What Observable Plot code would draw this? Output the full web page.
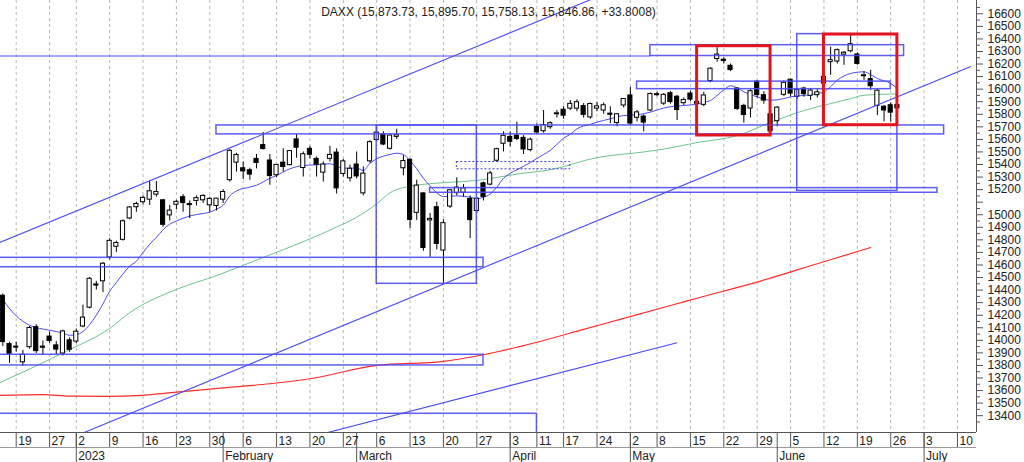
<!DOCTYPE html>
<html><head><meta charset="utf-8">
<script src="https://cdn.jsdelivr.net/npm/d3@7"></script>
<script src="https://cdn.jsdelivr.net/npm/@observablehq/plot@0.6"></script>
<style>html,body{margin:0;padding:0;background:#fff;}</style>
</head><body><div id="chart"></div>
<script>
// ---------- DATA ----------
const title = "DAXX (15,873.73, 15,895.70, 15,758.13, 15,846.86, +33.8008)";
const holidays = ["2022-12-26","2023-04-07","2023-04-10","2023-05-01"];
const monthLabels = ["2023","February","March","April","May","June","July"];
const yTickLabels = [16600,16500,16400,16300,16200,16100,16000,15900,15800,15700,15600,15500,15400,15300,15200,15000,14900,14800,14700,14600,14500,14400,14300,14200,14100,14000,13900,13800,13700,13600,13500,13400];

const days = ["2022-12-15","2022-12-16","2022-12-19","2022-12-20","2022-12-21","2022-12-22","2022-12-23","2022-12-27","2022-12-28","2022-12-29","2022-12-30",
"2023-01-02","2023-01-03","2023-01-04","2023-01-05","2023-01-06","2023-01-09","2023-01-10","2023-01-11","2023-01-12","2023-01-13","2023-01-16","2023-01-17","2023-01-18","2023-01-19","2023-01-20","2023-01-23","2023-01-24","2023-01-25","2023-01-26","2023-01-27","2023-01-30","2023-01-31",
"2023-02-01","2023-02-02","2023-02-03","2023-02-06","2023-02-07","2023-02-08","2023-02-09","2023-02-10","2023-02-13","2023-02-14","2023-02-15","2023-02-16","2023-02-17","2023-02-20","2023-02-21","2023-02-22","2023-02-23","2023-02-24","2023-02-27","2023-02-28",
"2023-03-01","2023-03-02","2023-03-03","2023-03-06","2023-03-07","2023-03-08","2023-03-09","2023-03-10","2023-03-13","2023-03-14","2023-03-15","2023-03-16","2023-03-17","2023-03-20","2023-03-21","2023-03-22","2023-03-23","2023-03-24","2023-03-27","2023-03-28","2023-03-29","2023-03-30","2023-03-31",
"2023-04-03","2023-04-04","2023-04-05","2023-04-06","2023-04-11","2023-04-12","2023-04-13","2023-04-14","2023-04-17","2023-04-18","2023-04-19","2023-04-20","2023-04-21","2023-04-24","2023-04-25","2023-04-26","2023-04-27","2023-04-28",
"2023-05-02","2023-05-03","2023-05-04","2023-05-05","2023-05-08","2023-05-09","2023-05-10","2023-05-11","2023-05-12","2023-05-15","2023-05-16","2023-05-17","2023-05-18","2023-05-19","2023-05-22","2023-05-23","2023-05-24","2023-05-25","2023-05-26","2023-05-29","2023-05-30","2023-05-31",
"2023-06-01","2023-06-02","2023-06-05","2023-06-06","2023-06-07","2023-06-08","2023-06-09","2023-06-12","2023-06-13","2023-06-14","2023-06-15","2023-06-16","2023-06-19","2023-06-20","2023-06-21","2023-06-22","2023-06-23","2023-06-26","2023-06-27"];
const open = [14355,13970,13950,13825,13945,14105,13950,14030,13960,13895,14000,
13990,14110,14260,14445,14470,14660,14745,14800,14970,15060,15100,15120,15160,15115,14995,15080,15140,15085,15110,15115,15075,15070,
15120,15275,15415,15370,15355,15445,15555,15432,15315,15415,15395,15600,15372,15525,15445,15335,15445,15495,15325,15290,
15400,15170,15425,15595,15640,15525,15620,15370,15437,15015,15170,14955,15060,14715,15065,15172,15175,15125,15030,15250,15240,15430,15565,
15620,15630,15612,15515,15700,15665,15697,15800,15836,15845,15845,15865,15775,15845,15830,15805,15730,15870,
15950,15772,15782,15830,15960,15885,15968,15940,15888,15965,15883,15875,16065,16240,16235,16186,16005,15867,15846,16060,15952,15800,
15745,15955,16075,15940,16005,15947,15952,16045,16215,16220,16275,16302,16276,16110,16080,15867,15860,15872,15873.73];
const high = [14370,13985,13985,13920,14110,14125,13995,14065,13990,14080,14020,
14090,14280,14500,14470,14620,14810,14790,14960,15065,15100,15150,15270,15265,15120,15075,15115,15160,15110,15150,15160,15140,15130,
15200,15520,15490,15420,15370,15480,15655,15480,15400,15525,15510,15640,15500,15545,15460,15420,15545,15525,15440,15395,
15500,15380,15590,15700,15660,15640,15680,15470,15445,15275,15175,15010,15100,14960,15200,15295,15240,15150,15140,15260,15345,15530,15660,
15660,15737,15630,15610,15725,15830,15740,15830,15860,15910,15915,15885,15890,15895,15890,15860,15805,15925,
16015,15830,15795,15970,15975,15965,15980,15950,15930,15985,15910,15975,16170,16330,16250,16200,16010,15880,15995,16070,15980,15870,
15860,16065,16080,16000,16015,16005,16000,16100,16335,16320,16300,16430,16290,16140,16150,15995,15870,15890,15895.70];
const low = [13950,13815,13905,13792,13930,13895,13880,13975,13880,13875,13905,
13975,14100,14250,14400,14380,14640,14700,14790,14960,15020,15080,15075,15140,14900,14950,15040,15020,14970,15070,15090,15020,15030,
15090,15260,15340,15280,15275,15365,15515,15235,15295,15340,15390,15450,15300,15445,15300,15260,15420,15165,15300,15260,
15285,15150,15410,15580,15550,15515,15600,15310,14890,14955,14710,14660,14720,14455,15050,15150,15140,14810,15010,15110,15230,15420,15500,
15540,15590,15480,15500,15640,15650,15680,15770,15760,15830,15820,15770,15760,15820,15800,15725,15700,15850,
15710,15740,15660,15820,15940,15870,15880,15750,15870,15900,15860,15860,16050,16215,16200,16140,15830,15730,15770,15930,15880,15630,
15700,15940,15940,15920,15935,15910,15930,16010,16110,16200,16190,16290,16190,16070,15990,15790,15740,15740,15758.13];
const close = [13986,13893,13943,13885,14098,13914,13941,13995,13926,14071,13924,
14069,14181,14490,14436,14610,14792,14775,14948,15058,15086,15134,15187,15181,14920,15033,15103,15093,15081,15132,15150,15126,15128,
15181,15509,15476,15345,15320,15412,15523,15308,15397,15380,15507,15534,15482,15477,15398,15400,15476,15210,15425,15366,
15305,15328,15578,15654,15559,15631,15633,15428,14959,15232,14735,14967,14768,14933,15195,15216,15210,14957,15128,15142,15329,15522,15629,
15581,15603,15520,15598,15655,15715,15729,15808,15789,15883,15896,15795,15882,15863,15872,15796,15800,15922,
15726,15815,15734,15961,15953,15955,15897,15834,15914,15917,15898,15950,16163,16275,16224,16152,15842,15794,15984,15953,15909,15664,
15853,16051,15964,15993,15960,15989,15975,16098,16231,16311,16290,16358,16201,16111,16023,15988,15830,15813,15846.86];

// moving averages
const fastDays = ["2022-12-14","2022-12-19","2022-12-21","2022-12-27","2022-12-29","2022-12-30","2023-01-02","2023-01-03","2023-01-04","2023-01-05","2023-01-06","2023-01-09","2023-01-10","2023-01-11","2023-01-12","2023-01-13","2023-01-16","2023-01-17","2023-01-18","2023-01-19","2023-01-20","2023-01-23","2023-01-25","2023-01-27","2023-01-30","2023-01-31","2023-02-01","2023-02-02","2023-02-03","2023-02-07","2023-02-08","2023-02-10","2023-02-13","2023-02-15","2023-02-17","2023-02-21","2023-02-23","2023-02-27","2023-03-01","2023-03-02","2023-03-03","2023-03-06","2023-03-08","2023-03-09","2023-03-10","2023-03-13","2023-03-14","2023-03-15","2023-03-16","2023-03-17","2023-03-20","2023-03-22","2023-03-24","2023-03-27","2023-03-28","2023-03-29","2023-03-30","2023-03-31","2023-04-03","2023-04-04","2023-04-06","2023-04-12","2023-04-13","2023-04-14","2023-04-17","2023-04-18","2023-04-19","2023-04-21","2023-04-24","2023-04-26","2023-04-28","2023-05-03","2023-05-04","2023-05-05","2023-05-09","2023-05-12","2023-05-16","2023-05-17","2023-05-18","2023-05-19","2023-05-22","2023-05-23","2023-05-24","2023-05-25","2023-05-29","2023-05-31","2023-06-02","2023-06-05","2023-06-07","2023-06-09","2023-06-12","2023-06-13","2023-06-14","2023-06-16","2023-06-19","2023-06-20","2023-06-21","2023-06-22","2023-06-26","2023-06-27"];
const fastVals = [14400,14195,14120,14080,14058,14040,14045,14070,14125,14200,14290,14390,14460,14530,14590,14630,14700,14765,14820,14880,14925,14950,14990,15010,15020,15045,15075,15150,15190,15220,15235,15290,15313,15366,15392,15398,15406,15371,15371,15352,15410,15445,15480,15490,15480,15430,15366,15290,15230,15175,15145,15150,15140,15127,15140,15165,15219,15290,15330,15358,15415,15480,15512,15560,15610,15640,15684,15720,15737,15764,15790,15795,15805,15817,15850,15870,15880,15895,15910,15950,15995,16027,16010,15979,15939,15912,15925,15939,15950,15965,15979,16020,16071,16125,16135,16138,16115,16085,16045,16005];
const midDays = ["2022-12-14","2022-12-20","2022-12-30","2023-01-09","2023-01-12","2023-01-23","2023-01-31","2023-02-09","2023-02-17","2023-02-24","2023-03-01","2023-03-06","2023-03-08","2023-03-13","2023-03-16","2023-03-21","2023-03-27","2023-03-30","2023-04-04","2023-04-13","2023-04-24","2023-05-04","2023-05-09","2023-05-16","2023-05-24","2023-05-31","2023-06-07","2023-06-13","2023-06-16","2023-06-20","2023-06-27"];
const midVals = [13650,13747,13925,14095,14220,14405,14515,14660,14785,14902,14980,15087,15175,15227,15247,15259,15273,15297,15324,15358,15455,15500,15523,15575,15630,15735,15830,15885,15925,15952,15962];
const slowDays = ["2022-12-14","2022-12-23","2022-12-30","2023-01-09","2023-01-13","2023-01-23","2023-02-01","2023-02-10","2023-02-20","2023-03-06","2023-03-20","2023-03-28","2023-04-11","2023-04-20","2023-04-28","2023-05-10","2023-05-16","2023-05-30","2023-06-09","2023-06-21"];
const slowVals = [13561,13567,13555,13553,13559,13587,13622,13654,13694,13800,13832,13885,13985,14087,14175,14277,14335,14480,14610,14739];

// drawn boxes: [from, to, top, bottom]
const boxStart = ["2023-05-05","2023-05-03","2023-01-31","2023-03-16","2022-12-12","2022-12-12","2022-12-12","2023-03-06","2023-06-06"];
const boxEnd   = ["2023-06-28","2023-06-26","2023-07-06","2023-07-05","2023-03-28","2023-03-28","2023-04-11","2023-03-27","2023-06-27"];
const boxTop   = [16350,16060,15711,15212,14657,13885,13415,15711,16438];
const boxBottom= [16264,16000,15640,15175,14582,13800,13150,14450,15190];
const dashStart = ["2023-03-22"], dashEnd = ["2023-04-18"], dashTop = [15420], dashBottom = [15362];
const redStart = ["2023-05-16","2023-06-12"], redEnd = ["2023-05-31","2023-06-27"];
const redTop = [16342,16435], redBottom = [15631,15713];
// straight lines: [fromDay, fromValue, toDay, toValue]
const lineFrom = ["2022-12-14","2023-01-03","2023-02-22","2022-12-12"];
const lineFromVal = [14767,13262,13257,16264];
const lineTo = ["2023-04-28","2023-07-12","2023-05-11","2023-05-05"];
const lineToVal = [16821,16181,13981,16264];

// ---------- BUILD ----------
const fmt = d3.utcFormat("%Y-%m-%d");
const calendar = d3.utcDays(new Date("2022-12-12"), new Date("2023-07-15"))
  .filter(d => d.getUTCDay() !== 0 && d.getUTCDay() !== 6 && !holidays.includes(fmt(d)));
const origin = calendar.findIndex(d => fmt(d) === "2022-12-19");
const idx = new Map(calendar.map((d, k) => [fmt(d), k - origin]));
const X = s => idx.get(s);

const weekTicks = calendar.filter((d, k) => k > 0 && +d3.utcMonday.floor(d) !== +d3.utcMonday.floor(calendar[k - 1]))
  .map(d => ({i: X(fmt(d)), label: String(d.getUTCDate())}));
const monthTicks = calendar.filter((d, k) => k > 0 && d.getUTCMonth() !== calendar[k - 1].getUTCMonth())
  .map((d, m) => ({i: X(fmt(d)), label: monthLabels[m]}));

const candles = days.map((d, k) => ({i: X(d), o: open[k], h: high[k], l: low[k], c: close[k]}));
const up = candles.filter(d => d.c >= d.o), down = candles.filter(d => d.c < d.o);
const bodyTop = d => Math.max(d.o, d.c);
const bodyBot = d => Math.abs(d.o - d.c) < 8 ? Math.max(d.o, d.c) - 8 : Math.min(d.o, d.c);

const series = (ds, vs) => ds.map((d, k) => ({i: X(d), v: vs[k]}));
const boxes = boxStart.map((d, k) => ({a: X(d), b: X(boxEnd[k]), t: boxTop[k], u: boxBottom[k]}));
const dashes = dashStart.map((d, k) => ({a: X(d), b: X(dashEnd[k]), t: dashTop[k], u: dashBottom[k]}));
const reds = redStart.map((d, k) => ({a: X(d), b: X(redEnd[k]), t: redTop[k], u: redBottom[k]}));
const lines = lineFrom.map((d, k) => ({a: X(d), av: lineFromVal[k], b: X(lineTo[k]), bv: lineToVal[k]}));

const xDomain = [-2.352, 143.85];
const yDomain = [13266, 16706];
const majorY = d3.range(13400, 16700, 100);
const minorY = d3.range(13350, 16750, 100);
const blue = "#4b4bf5";

const chart = Plot.plot({
  width: 1024, height: 462,
  marginLeft: 0, marginRight: 48, marginTop: 0, marginBottom: 30,
  x: {type: "linear", domain: xDomain, axis: null},
  y: {type: "linear", domain: yDomain, axis: null},
  style: {fontFamily: "'Liberation Sans', Arial, sans-serif", fontSize: "12px", background: "#fff", color: "#222"},
  marks: [
    Plot.gridX(weekTicks.map(d => d.i), {stroke: "#b8b8b8", strokeOpacity: 1, strokeDasharray: "3,3"}),
    Plot.line(series(slowDays, slowVals), {x: "i", y: "v", stroke: "#ff2b2b", strokeWidth: 1.2, curve: "monotone-x", clip: true}),
    Plot.line(series(midDays, midVals), {x: "i", y: "v", stroke: "#6cc58f", strokeWidth: 1, curve: "monotone-x", clip: true}),
    Plot.line(series(fastDays, fastVals), {x: "i", y: "v", stroke: blue, strokeWidth: 1, curve: "monotone-x", clip: true}),
    Plot.ruleX(candles, {x: "i", y1: "l", y2: "h", stroke: "#000", strokeWidth: 1}),
    Plot.rect(up, {x1: d => d.i - 0.31, x2: d => d.i + 0.31, y1: bodyTop, y2: bodyBot, fill: "#fff", stroke: "#000", strokeWidth: 1}),
    Plot.rect(down, {x1: d => d.i - 0.31, x2: d => d.i + 0.31, y1: bodyTop, y2: bodyBot, fill: "#000", stroke: "#000", strokeWidth: 1}),
    Plot.rect(boxes, {x1: "a", x2: "b", y1: "t", y2: "u", fill: "none", stroke: blue, strokeWidth: 1.5, strokeOpacity: 0.9, clip: true}),
    Plot.rect(dashes, {x1: "a", x2: "b", y1: "t", y2: "u", fill: "none", stroke: "#3a3ae0", strokeWidth: 1, strokeDasharray: "2,2", clip: true}),
    Plot.link(lines, {x1: "a", y1: "av", x2: "b", y2: "bv", stroke: blue, strokeWidth: 1.1, clip: true}),
    Plot.rect(reds, {x1: "a", x2: "b", y1: "t", y2: "u", fill: "none", stroke: "#e4141e", strokeWidth: 3}),
    // frame lines
    Plot.ruleY([yDomain[0]], {stroke: "#555"}),
    Plot.ruleY([yDomain[0]], {dy: 15, stroke: "#999"}),
    Plot.ruleX([xDomain[1]], {stroke: "#555"}),
    // x axis: weeks and months
    Plot.axisX(weekTicks.map(d => d.i), {anchor: "bottom", tickSize: 15, tickFormat: () => "", stroke: "#555"}),
    Plot.axisX(monthTicks.map(d => d.i), {anchor: "bottom", tickSize: 30, tickFormat: () => "", stroke: "#555"}),
    Plot.text(weekTicks, {x: "i", text: "label", frameAnchor: "bottom", dy: 12, dx: 2, textAnchor: "start", lineAnchor: "bottom", fontSize: 12, fill: "#222"}),
    Plot.text(monthTicks, {x: "i", text: "label", frameAnchor: "bottom", dy: 27, dx: 2, textAnchor: "start", lineAnchor: "bottom", fontSize: 12, fill: "#222"}),
    // y axis on the right
    Plot.axisY(majorY, {anchor: "right", tickSize: 6, tickPadding: 5, fontSize: 12, stroke: "#555",
      tickFormat: d => yTickLabels.includes(d) ? String(d) : ""}),
    Plot.axisY(minorY, {anchor: "right", tickSize: 3, tickFormat: () => "", stroke: "#555"}),
    // title
    Plot.text([title], {frameAnchor: "top", dy: 12, lineAnchor: "middle", fontSize: 12, fill: "#222"})
  ]
});
document.getElementById("chart").appendChild(chart);
</script>
</body></html>
